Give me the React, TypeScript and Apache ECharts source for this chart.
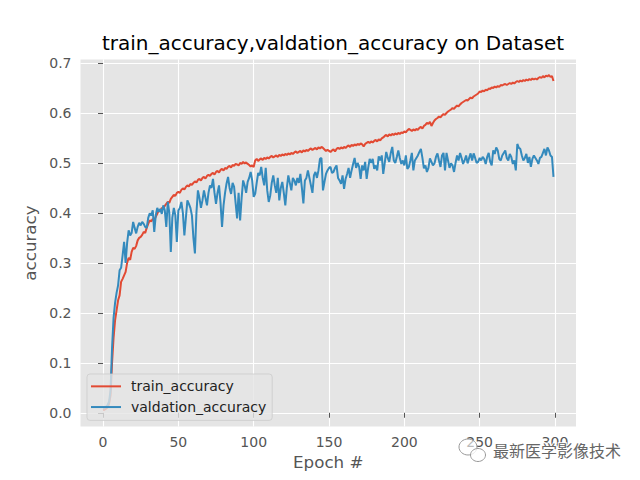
import React, { useEffect, useRef } from "react";
import * as echarts from "echarts";

const TITLE = "train_accuracy,valdation_accuracy on Dataset";
const X_NAME = "Epoch #";
const Y_NAME = "accuracy";
const SERIES_NAMES = ["train_accuracy", "valdation_accuracy"];
const X_TICKS = [0, 50, 100, 150, 200, 250, 300];
const Y_TICKS = [0, 0.1, 0.2, 0.3, 0.4, 0.5, 0.6, 0.7];
const WATERMARK = "最新医学影像技术";

const trainAcc = [
  0.005, 0.006, 0.008, 0.011, 0.018, 0.035, 0.1, 0.15, 0.185, 0.205,
  0.225, 0.235, 0.262, 0.268, 0.275, 0.282, 0.3, 0.31, 0.306, 0.322,
  0.33, 0.328, 0.334, 0.345, 0.35, 0.352, 0.356, 0.362, 0.36, 0.37,
  0.378, 0.385, 0.383, 0.388, 0.386, 0.392, 0.398, 0.405, 0.403, 0.41,
  0.408, 0.414, 0.418, 0.422, 0.42, 0.428, 0.432, 0.436, 0.434, 0.44,
  0.442, 0.44, 0.446, 0.449, 0.447, 0.452, 0.455, 0.453, 0.458, 0.456,
  0.46, 0.463, 0.461, 0.466, 0.468, 0.465, 0.47, 0.472, 0.469, 0.474,
  0.476, 0.474, 0.478, 0.48, 0.477, 0.482, 0.484, 0.481, 0.486, 0.488,
  0.485, 0.49, 0.488, 0.492, 0.494, 0.491, 0.496, 0.494, 0.498, 0.497,
  0.495, 0.5, 0.498, 0.502, 0.499, 0.501, 0.498, 0.496, 0.493, 0.495,
  0.492, 0.505, 0.508, 0.504, 0.507, 0.509, 0.506, 0.51, 0.508, 0.511,
  0.509, 0.512, 0.514, 0.511, 0.513, 0.515, 0.512, 0.516, 0.514, 0.517,
  0.515, 0.518, 0.516, 0.519, 0.517, 0.52, 0.518, 0.521, 0.523, 0.52,
  0.522, 0.524, 0.521, 0.525, 0.523, 0.526, 0.524, 0.527, 0.529, 0.526,
  0.528, 0.53, 0.527, 0.531, 0.529, 0.532, 0.53, 0.527, 0.524, 0.526,
  0.524, 0.522, 0.525, 0.527, 0.523, 0.528, 0.53, 0.528, 0.531, 0.529,
  0.532, 0.53, 0.533, 0.535, 0.532, 0.536, 0.534, 0.537, 0.535, 0.538,
  0.536, 0.539, 0.537, 0.533, 0.538, 0.54, 0.542, 0.54, 0.543, 0.541,
  0.544, 0.546, 0.543, 0.547, 0.545, 0.549, 0.551, 0.554, 0.556, 0.553,
  0.557, 0.555, 0.558, 0.556, 0.559, 0.557, 0.56, 0.558, 0.561, 0.56,
  0.563, 0.561, 0.565, 0.568, 0.566, 0.564, 0.567, 0.565, 0.568, 0.566,
  0.57, 0.572, 0.569, 0.574, 0.576, 0.58, 0.578, 0.582, 0.574, 0.58,
  0.585, 0.588, 0.59, 0.593, 0.591, 0.595, 0.598, 0.596, 0.6, 0.603,
  0.605, 0.607, 0.61, 0.608, 0.612, 0.615, 0.613, 0.617, 0.62, 0.622,
  0.624, 0.626, 0.625, 0.628, 0.631, 0.629, 0.633, 0.635, 0.637, 0.639,
  0.643, 0.642, 0.645, 0.643, 0.647, 0.645, 0.649, 0.648, 0.651, 0.65,
  0.653, 0.651, 0.654, 0.652, 0.656, 0.655, 0.657, 0.658, 0.656, 0.658,
  0.66, 0.658, 0.661, 0.659, 0.662, 0.664, 0.662, 0.665, 0.663, 0.666,
  0.664, 0.667, 0.665, 0.668, 0.666, 0.669, 0.667, 0.669, 0.667, 0.67,
  0.672, 0.67, 0.674, 0.671, 0.675, 0.673, 0.676, 0.672, 0.674, 0.664,
];

const valAcc = [
  0.01, 0.01, 0.012, 0.015, 0.022, 0.045, 0.13, 0.19, 0.22, 0.24,
  0.255, 0.285, 0.29, 0.315, 0.342, 0.3, 0.34, 0.365, 0.355, 0.36,
  0.382, 0.37, 0.359, 0.372, 0.38, 0.375, 0.382, 0.378, 0.372, 0.37,
  0.39, 0.399, 0.395, 0.405, 0.362, 0.395, 0.41, 0.402, 0.408, 0.398,
  0.415, 0.405, 0.372, 0.422, 0.4, 0.322, 0.39, 0.41, 0.395, 0.342,
  0.405, 0.41, 0.422, 0.4, 0.355, 0.39, 0.425, 0.418, 0.41, 0.395,
  0.35, 0.319, 0.4, 0.445, 0.43, 0.41, 0.425, 0.445, 0.43, 0.415,
  0.44, 0.455, 0.45, 0.468, 0.44, 0.418, 0.44, 0.455, 0.42, 0.372,
  0.415, 0.44, 0.459, 0.472, 0.45, 0.438, 0.46, 0.452, 0.42, 0.389,
  0.44, 0.385, 0.43, 0.465, 0.455, 0.44, 0.462, 0.47, 0.482, 0.465,
  0.432, 0.438, 0.46, 0.48, 0.475, 0.492, 0.47, 0.455, 0.49, 0.445,
  0.422, 0.435, 0.46, 0.475, 0.455, 0.44, 0.47, 0.425, 0.45, 0.462,
  0.44, 0.415, 0.45, 0.475, 0.46, 0.445, 0.47, 0.465, 0.455, 0.47,
  0.46, 0.478, 0.45, 0.419, 0.465, 0.47, 0.485, 0.47, 0.455, 0.44,
  0.475, 0.482, 0.47, 0.485, 0.508, 0.51, 0.445, 0.462, 0.478, 0.485,
  0.49, 0.492, 0.48, 0.482, 0.49, 0.495, 0.47, 0.465, 0.458, 0.475,
  0.448, 0.468, 0.478, 0.49, 0.47, 0.485, 0.498, 0.51, 0.49, 0.5,
  0.492, 0.468, 0.495, 0.485, 0.502, 0.468, 0.49, 0.508, 0.5, 0.508,
  0.488, 0.495, 0.485, 0.513, 0.505, 0.515, 0.478, 0.5, 0.522, 0.51,
  0.502, 0.52, 0.532, 0.505, 0.5, 0.512, 0.525, 0.51, 0.498, 0.505,
  0.495, 0.515, 0.488, 0.492, 0.505, 0.52, 0.485, 0.505, 0.51, 0.515,
  0.522, 0.528, 0.51, 0.489, 0.495, 0.482, 0.49, 0.509, 0.502, 0.495,
  0.499, 0.512, 0.519, 0.505, 0.492, 0.515, 0.52, 0.485, 0.52, 0.505,
  0.49, 0.499, 0.495, 0.482, 0.5, 0.515, 0.505, 0.52, 0.51, 0.498,
  0.505, 0.515, 0.499, 0.51, 0.519, 0.505, 0.519, 0.51, 0.5, 0.502,
  0.51, 0.505, 0.512, 0.508, 0.498, 0.512, 0.52, 0.502, 0.495, 0.525,
  0.518, 0.531, 0.525, 0.508, 0.505, 0.515, 0.52, 0.525, 0.51, 0.505,
  0.518, 0.512, 0.498, 0.505, 0.485, 0.538, 0.53, 0.528, 0.515, 0.505,
  0.51, 0.518, 0.5, 0.512, 0.492, 0.508, 0.515, 0.51, 0.505, 0.498,
  0.51, 0.512, 0.52, 0.528, 0.515, 0.531, 0.525, 0.515, 0.512, 0.472,
];

const COLORS = ["#E24A33", "#348ABD"];
const FONT = "DejaVu Sans";

export default function App() {
  const ref = useRef<HTMLDivElement>(null);
  useEffect(() => {
    if (!ref.current) return;
    const chart = echarts.init(ref.current, null, { renderer: "svg" });
    const toPairs = (arr: number[]) => arr.map((v, i) => [i, v]);
    const option: any = {
      animation: false,
      backgroundColor: "#ffffff",
      title: {
        text: TITLE,
        left: 328,
        top: 28,
        textAlign: "center",
        textStyle: { fontFamily: FONT, fontSize: 20, fontWeight: "normal", color: "#000" },
      },
      grid: { left: 80.5, right: 64, top: 59.5, bottom: 53.5, show: true, backgroundColor: "#E5E5E5", borderWidth: 0, outerBoundsMode: "none" },
      legend: {
        orient: "vertical",
        left: 87,
        top: 374,
        padding: [4, 6, 5, 4],
        itemWidth: 30,
        itemHeight: 2,
        itemGap: 4,
        icon: "rect",
        backgroundColor: "rgba(229,229,229,0.8)",
        borderColor: "rgba(204,204,204,0.8)",
        borderWidth: 1,
        borderRadius: 3,
        textStyle: { fontFamily: FONT, fontSize: 14, color: "#222", lineHeight: 16.7, padding: [0, 0, 0, 5] },
        data: SERIES_NAMES,
      },
      xAxis: {
        type: "value",
        min: -14.95,
        max: 313.95,
        name: X_NAME,
        nameLocation: "middle",
        nameGap: 24,
        nameTextStyle: { fontFamily: FONT, fontSize: 16.7, color: "#555" },
        axisLine: { show: false },
        axisTick: { show: true, customValues: X_TICKS, length: 5, lineStyle: { color: "#555", width: 1 } },
        axisLabel: { customValues: X_TICKS, margin: 8, fontFamily: FONT, fontSize: 14, color: "#555" },
        splitLine: { show: true, lineStyle: { color: "#fff", width: 1.1 } },
      },
      yAxis: {
        type: "value",
        min: -0.0275,
        max: 0.707,
        name: Y_NAME,
        nameLocation: "middle",
        nameGap: 36,
        nameTextStyle: { fontFamily: FONT, fontSize: 16.7, color: "#555" },
        axisLine: { show: false },
        axisTick: { show: true, customValues: Y_TICKS, length: 5, lineStyle: { color: "#555", width: 1 } },
        axisLabel: { customValues: Y_TICKS, margin: 9, fontFamily: FONT, fontSize: 14, color: "#555", formatter: (v: number) => v.toFixed(1) },
        splitLine: { show: true, lineStyle: { color: "#fff", width: 1.1 } },
      },
      series: [
        { name: SERIES_NAMES[0], type: "line", data: toPairs(trainAcc), showSymbol: false, symbol: "none", lineStyle: { color: COLORS[0], width: 2 }, itemStyle: { color: COLORS[0] }, z: 3 },
        { name: SERIES_NAMES[1], type: "line", data: toPairs(valAcc), showSymbol: false, symbol: "none", lineStyle: { color: COLORS[1], width: 2 }, itemStyle: { color: COLORS[1] }, z: 3 },
      ],
      graphic: [
        { type: "ellipse", shape: { cx: 468, cy: 447, rx: 9, ry: 8 }, style: { fill: "rgba(255,255,255,0.6)", stroke: "#999", lineWidth: 1 }, z: 10 },
        { type: "ellipse", shape: { cx: 478, cy: 455, rx: 7.5, ry: 6.5 }, style: { fill: "rgba(255,255,255,0.8)", stroke: "#999", lineWidth: 1 }, z: 11 },
        { type: "text", x: 493, y: 450, style: { text: WATERMARK, font: '16px "Noto Sans CJK SC"', fill: "#666", stroke: "#fff", lineWidth: 2, verticalAlign: "middle", align: "left" }, z: 12 },
      ],
    };
    chart.setOption(option);
    return () => chart.dispose();
  }, []);
  return <div ref={ref} style={{ position: "fixed", left: 0, top: 0, width: 640, height: 480 }} />;
}
